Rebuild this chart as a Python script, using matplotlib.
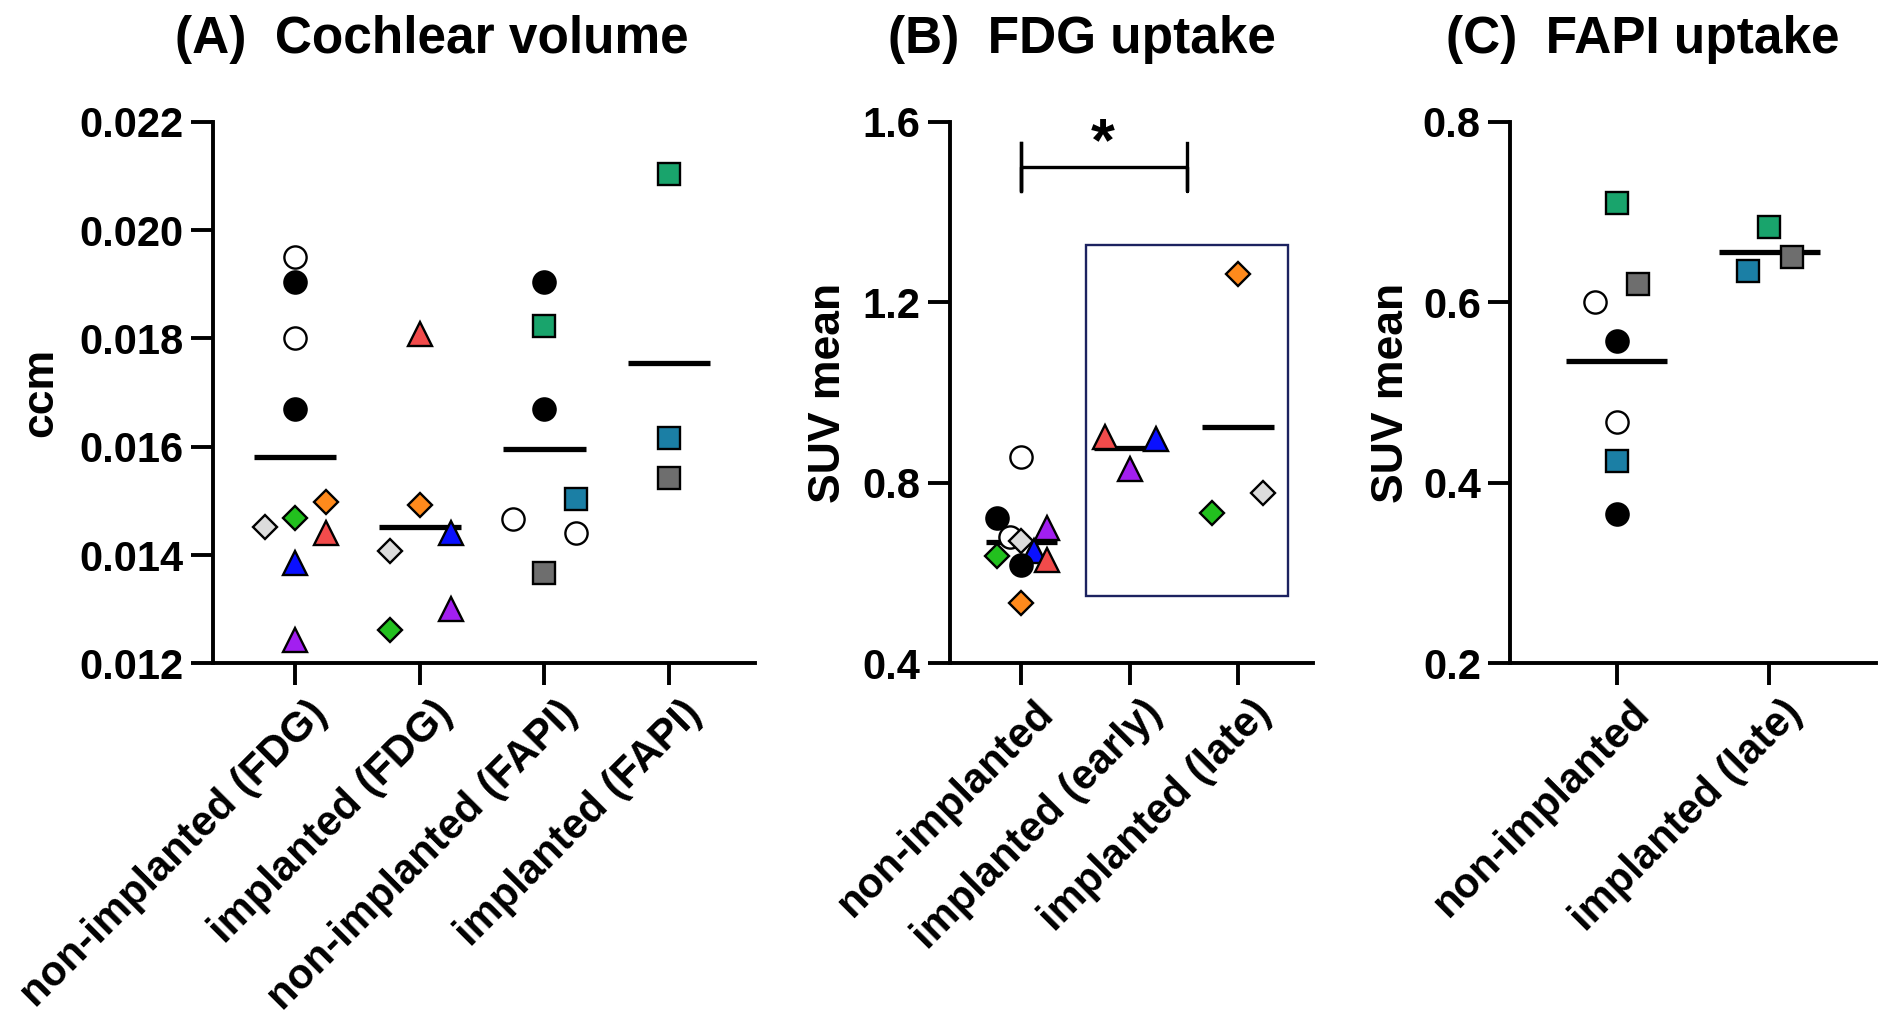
import numpy as np
import matplotlib
matplotlib.use("Agg")
import matplotlib.pyplot as plt
import matplotlib.transforms as mtransforms

plt.rcParams["font.family"] = ["Liberation Sans", "DejaVu Sans"]
plt.rcParams["font.weight"] = "bold"

# ─────────────────────────────────────────────
#  marker kinds: (marker, face colour, size)
# ─────────────────────────────────────────────
STYLES = {
    "wc":  ("o", "white",   16),
    "kc":  ("o", "black",   16),
    "gd":  ("D", "#dcdcdc", 12),
    "grd": ("D", "#22c01e", 12),
    "od":  ("D", "#ff8a1c", 12),
    "rt":  ("^", "#f24b4b", 17),
    "bt":  ("^", "#0a10ff", 17),
    "pt":  ("^", "#a21ff0", 17),
    "gs":  ("s", "#19a46c", 16),
    "ts":  ("s", "#1b7fa5", 16),
    "ks":  ("s", "#6e6e6e", 16),
}

# ─────────────────────────────────────────────
#  DATA
# ─────────────────────────────────────────────
a_labels = ["non-implanted (FDG)", "implanted (FDG)",
            "non-implanted (FAPI)", "implanted (FAPI)"]
a_values = [
    [0.01950, 0.01905, 0.01801, 0.01669, 0.01452, 0.01469, 0.01497, 0.01440, 0.01385, 0.01243],
    [0.01809, 0.01492, 0.01440, 0.01407, 0.01301, 0.01262],
    [0.01905, 0.01823, 0.01669, 0.01504, 0.01466, 0.01440, 0.01366],
    [0.02104, 0.01616, 0.01542],
]
a_kinds = [
    ["wc", "kc", "wc", "kc", "gd", "grd", "od", "rt", "bt", "pt"],
    ["rt", "od", "bt", "gd", "pt", "grd"],
    ["kc", "gs", "kc", "ts", "wc", "wc", "ks"],
    ["gs", "ts", "ks"],
]
a_jitter = [
    [0, 0, 0, 0, -0.24, 0, 0.25, 0.25, 0, 0],
    [0, 0, 0.25, -0.24, 0.25, -0.24],
    [0, 0, 0, 0.25, -0.25, 0.25, 0],
    [0, 0, 0],
]
a_ticks = [0.012, 0.014, 0.016, 0.018, 0.020, 0.022]

b_labels = ["non-implanted", "implanted (early)", "implanted (late)"]
b_values = [
    [0.858, 0.723, 0.679, 0.671, 0.699, 0.637, 0.648, 0.629, 0.617, 0.534],
    [0.902, 0.898, 0.830],
    [1.263, 0.777, 0.733],
]
b_kinds = [
    ["wc", "kc", "wc", "gd", "pt", "grd", "bt", "rt", "kc", "od"],
    ["rt", "bt", "pt"],
    ["od", "gd", "grd"],
]
b_jitter = [
    [0, -0.23, -0.11, 0, 0.24, -0.23, 0.12, 0.24, 0, 0],
    [-0.23, 0.24, 0],
    [0, 0.23, -0.24],
]
b_ticks = [0.4, 0.8, 1.2, 1.6]

c_labels = ["non-implanted", "implanted (late)"]
c_values = [
    [0.710, 0.620, 0.600, 0.557, 0.467, 0.424, 0.365],
    [0.683, 0.650, 0.635],
]
c_kinds = [
    ["gs", "ks", "wc", "kc", "wc", "ts", "kc"],
    ["gs", "ks", "ts"],
]
c_jitter = [
    [0, 0.14, -0.14, 0, 0, 0, 0],
    [0, 0.15, -0.14],
]
c_ticks = [0.2, 0.4, 0.6, 0.8]


def scatter_panel(ax, labels, values, kinds, jitter, ticks, fmt, xlim):
    for i, (vals, ks, jit) in enumerate(zip(values, kinds, jitter)):
        m = np.mean(vals)
        ax.plot([i - 0.33, i + 0.33], [m, m], color="black", lw=3.8,
                solid_capstyle="butt", zorder=2)
        for v, k, j in zip(vals, ks, jit):
            mk, fc, ms = STYLES[k]
            ax.plot(i + j, v, marker=mk, ms=ms, mfc=fc, mec="black",
                    mew=1.7, ls="none", zorder=3, clip_on=False)

    ax.set_xlim(*xlim)
    ax.set_ylim(ticks[0], ticks[-1])
    ax.set_yticks(ticks)
    ax.set_yticklabels([fmt.format(t) for t in ticks])
    ax.set_xticks(range(len(labels)))
    ax.set_xticklabels(labels, rotation=45, ha="right", va="top",
                       rotation_mode="anchor")

    for s in ("top", "right"):
        ax.spines[s].set_visible(False)
    for s in ("left", "bottom"):
        ax.spines[s].set_linewidth(2.8)
    ax.tick_params(axis="both", length=16, width=2.8, labelsize=30)
    ax.tick_params(axis="y", pad=5)
    ax.tick_params(axis="x", pad=4)

    shift = mtransforms.ScaledTranslation(0.12, -0.02, ax.figure.dpi_scale_trans)
    for lab in ax.get_xticklabels():
        lab.set_transform(lab.get_transform() + shift)


fig = plt.figure(figsize=(18.9, 10.24), dpi=100)
axA = fig.add_axes([0.1127, 0.3522, 0.2868, 0.5289])
axB = fig.add_axes([0.5026, 0.3522, 0.1921, 0.5289])
axC = fig.add_axes([0.7989, 0.3522, 0.1937, 0.5289])

scatter_panel(axA, a_labels, a_values, a_kinds, a_jitter, a_ticks, "{:.3f}", (-0.66, 3.69))
scatter_panel(axB, b_labels, b_values, b_kinds, b_jitter, b_ticks, "{:.1f}", (-0.66, 2.69))
scatter_panel(axC, c_labels, c_values, c_kinds, c_jitter, c_ticks, "{:.1f}", (-0.7, 1.7))

axA.set_ylabel("ccm", fontsize=32, fontweight="bold")
axA.yaxis.set_label_coords(-0.28, 0.5)
axB.set_ylabel("SUV mean", fontsize=32, fontweight="bold")
axB.yaxis.set_label_coords(-0.278, 0.5)
axC.set_ylabel("SUV mean", fontsize=32, fontweight="bold")
axC.yaxis.set_label_coords(-0.268, 0.5)

# box round the implanted groups + significance bracket
axB.add_patch(plt.Rectangle((0.60, 0.549), 1.86, 0.779, fill=False,
                            edgecolor="#1c2260", lw=1.7, zorder=1))
axB.plot([0, 0, 0, 1.53, 1.53, 1.53], [1.552, 1.446, 1.5, 1.5, 1.446, 1.552],
         color="black", lw=2.4, clip_on=False)
axB.plot([0, 0], [1.446, 1.552], color="black", lw=2.4, clip_on=False)
axB.text(0.75, 1.55, "*", fontsize=44, ha="center", va="center",
         fontweight="bold")

fig.text(175 / 1890, 1 - 53 / 1024, "(A)  Cochlear volume", fontsize=37,
         fontweight="bold", ha="left", va="baseline")
fig.text(888 / 1890, 1 - 53 / 1024, "(B)  FDG uptake", fontsize=37,
         fontweight="bold", ha="left", va="baseline")
fig.text(1446 / 1890, 1 - 53 / 1024, "(C)  FAPI uptake", fontsize=37,
         fontweight="bold", ha="left", va="baseline")

fig.savefig("out.png", dpi=100, facecolor="white")
